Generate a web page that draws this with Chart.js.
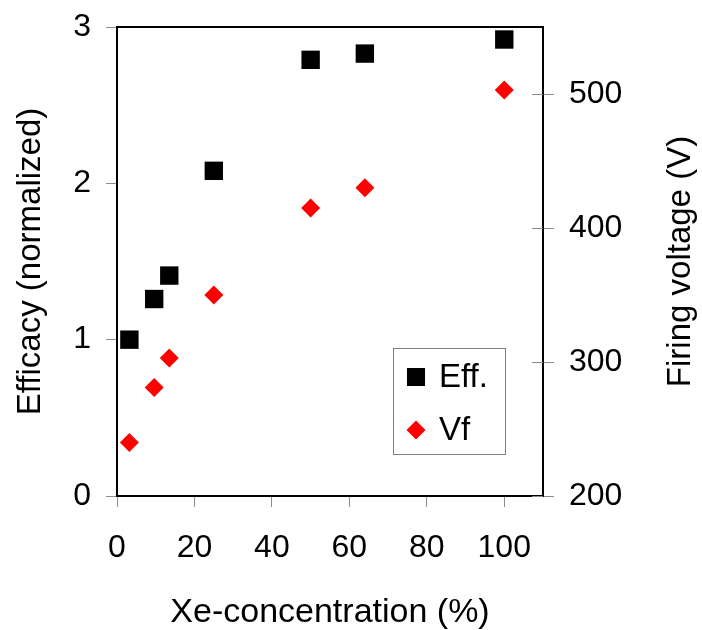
<!DOCTYPE html>
<html lang="en">
<head>
  <meta charset="UTF-8" />
  <title>Efficacy and firing voltage vs Xe concentration</title>
  <script src="https://cdn.jsdelivr.net/npm/chart.js"></script>
  <style>
    body {
      margin: 0;
      background: #fff;
    }
    #wrap {
      width: 702px;
      height: 630px;
    }
  </style>
</head>
<body>
  <div id="wrap"><canvas id="grafico" width="702" height="630"></canvas></div>

  <script>
    // measured points
    const xeConc = [3.2, 9.6, 13.5, 25, 50, 64, 100];
    const efficacy = [1.0, 1.26, 1.41, 2.08, 2.79, 2.83, 2.92];
    const firingVoltage = [240, 281, 303, 350, 415, 430, 503];
    const seriesNames = ['Eff.', 'Vf'];

    const xTitle = 'Xe-concentration (%)';
    const yTitle = 'Efficacy (normalized)';
    const y2Title = 'Firing voltage (V)';

    const FONT = '"Liberation Sans", Arial, sans-serif';
    const TICK_GRAY = '#8c8c8c';

    // fixed box sizes so the plot frame lands where it should; drop the label overhang padding
    function fixBox(size) {
      return s => {
        if (s.isHorizontal()) s.height = size; else s.width = size;
        s.paddingTop = 0;
        s.paddingBottom = 0;
        s.paddingLeft = 0;
        s.paddingRight = 0;
      };
    }

    // top frame line, inner halves of the right ticks, right title and the boxed legend
    const extras = {
      id: 'extras',
      afterDraw(chart) {
        const { ctx, chartArea: a, scales } = chart;
        ctx.save();

        ctx.strokeStyle = '#000';
        ctx.lineWidth = 2;
        ctx.beginPath();
        ctx.moveTo(a.left - 1, a.top);
        ctx.lineTo(a.right + 1, a.top);
        ctx.stroke();

        ctx.strokeStyle = TICK_GRAY;
        ctx.lineWidth = 1;
        scales.y2.ticks.forEach(t => {
          const y = Math.round(scales.y2.getPixelForValue(t.value)) + 0.5;
          ctx.beginPath();
          ctx.moveTo(a.right - 11, y);
          ctx.lineTo(a.right, y);
          ctx.stroke();
        });

        // right axis title reads bottom to top
        ctx.save();
        ctx.translate(681, (a.top + a.bottom) / 2);
        ctx.rotate(-Math.PI / 2);
        ctx.font = '33px ' + FONT;
        ctx.fillStyle = '#000';
        ctx.textAlign = 'center';
        ctx.textBaseline = 'middle';
        ctx.fillText(y2Title, 0, 0);
        ctx.restore();

        // legend
        const bx = a.right - 150, by = a.bottom - 148;
        ctx.strokeStyle = '#808080';
        ctx.lineWidth = 1;
        ctx.strokeRect(bx + 0.5, by + 0.5, 112, 106);

        ctx.font = '33px ' + FONT;
        ctx.textAlign = 'left';
        ctx.textBaseline = 'middle';
        chart.data.datasets.forEach((ds, i) => {
          const cx = bx + 23, cy = by + 29 + i * 53;
          ctx.fillStyle = ds.backgroundColor;
          if (ds.pointStyle === 'rect') {
            ctx.fillRect(cx - 9, cy - 9, 18, 18);
          } else {
            ctx.beginPath();
            ctx.moveTo(cx, cy - 9.5);
            ctx.lineTo(cx + 9.5, cy);
            ctx.lineTo(cx, cy + 9.5);
            ctx.lineTo(cx - 9.5, cy);
            ctx.closePath();
            ctx.fill();
          }
          ctx.fillStyle = '#000';
          ctx.fillText(ds.label, bx + 46, cy + 1);
        });

        ctx.restore();
      }
    };

    const ctx = document.getElementById('grafico').getContext('2d');
    new Chart(ctx, {
      type: 'scatter',
      data: {
        datasets: [
          {
            label: seriesNames[0],
            data: xeConc.map((x, i) => ({ x, y: efficacy[i] })),
            yAxisID: 'y',
            pointStyle: 'rect',
            pointRadius: 13,
            pointBorderWidth: 0,
            backgroundColor: '#000000',
            borderColor: '#000000'
          },
          {
            label: seriesNames[1],
            data: xeConc.map((x, i) => ({ x, y: firingVoltage[i] })),
            yAxisID: 'y2',
            pointStyle: 'rectRot',
            pointRadius: 9.5,
            pointBorderWidth: 0,
            backgroundColor: '#ff0000',
            borderColor: '#ff0000'
          }
        ]
      },
      options: {
        responsive: false,
        animation: false,
        layout: { padding: { top: 27, left: 0, right: 0, bottom: 0 } },
        plugins: {
          legend: { display: false },
          tooltip: { enabled: false }
        },
        scales: {
          x: {
            type: 'linear',
            min: 0,
            max: 110,
            afterFit: fixBox(134),
            border: { display: true, color: '#000', width: 2 },
            grid: { drawOnChartArea: false, tickLength: 11, color: TICK_GRAY, lineWidth: 1 },
            ticks: {
              stepSize: 20,
              includeBounds: false,
              padding: 22,
              color: '#000',
              font: { family: FONT, size: 32 }
            },
            title: {
              display: true,
              text: xTitle,
              color: '#000',
              font: { family: FONT, size: 34 },
              padding: { top: 0, bottom: -3 }
            }
          },
          y: {
            type: 'linear',
            position: 'left',
            min: 0,
            max: 3,
            afterFit: fixBox(117),
            border: { display: true, color: '#000', width: 2 },
            grid: { drawOnChartArea: false, tickLength: 11, color: TICK_GRAY, lineWidth: 1 },
            ticks: {
              stepSize: 1,
              padding: 15,
              color: '#000',
              font: { family: FONT, size: 32 }
            },
            title: {
              display: true,
              text: yTitle,
              color: '#000',
              font: { family: FONT, size: 33 },
              padding: { top: 11, bottom: 0 }
            }
          },
          y2: {
            type: 'linear',
            position: 'right',
            min: 200,
            max: 550,
            afterFit: fixBox(159),
            border: { display: true, color: '#000', width: 2 },
            grid: { drawOnChartArea: false, tickLength: 11, color: TICK_GRAY, lineWidth: 1 },
            ticks: {
              stepSize: 100,
              includeBounds: false,
              padding: 15,
              color: '#000',
              font: { family: FONT, size: 32 }
            }
          }
        }
      },
      plugins: [extras]
    });
  </script>
</body>
</html>
